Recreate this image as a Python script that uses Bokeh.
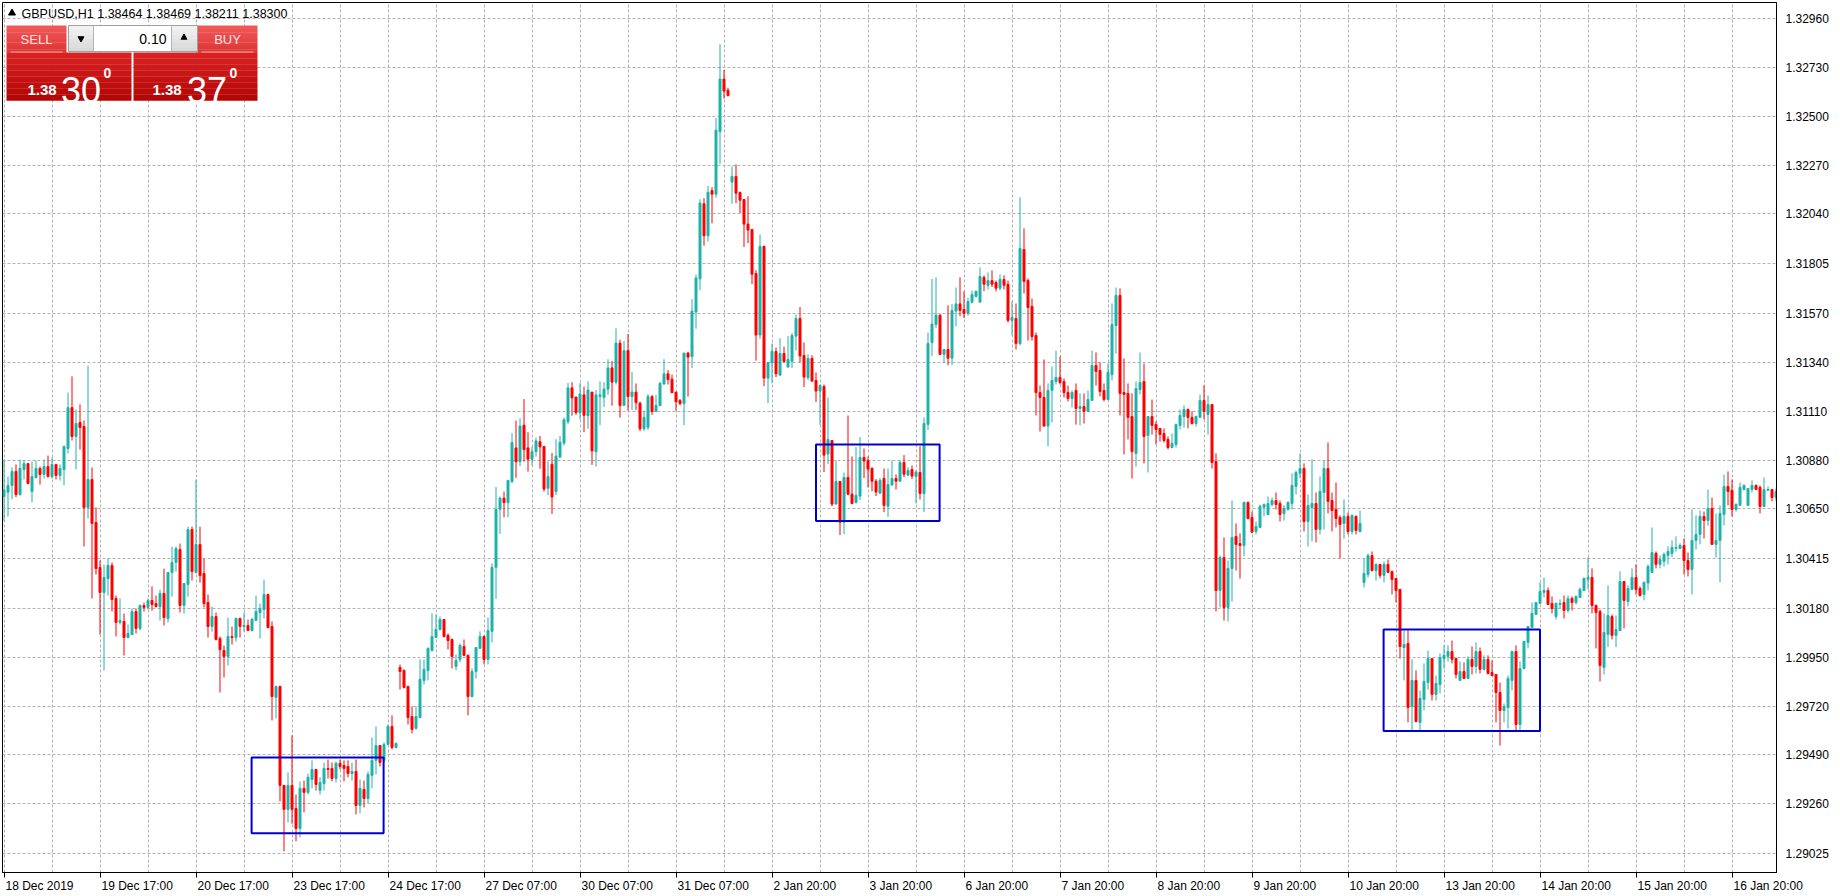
from bokeh.plotting import figure
from bokeh.models import Range1d, FixedTicker, Label, ColumnDataSource, NumeralTickFormatter
from bokeh.embed import file_html
from bokeh.resources import INLINE

# ---------------- data (GBPUSD H1 candles) ----------------
open_ = [
1.30708,1.30728,1.30760,1.30826,1.30717,1.30835,1.30863,1.30731,1.30797,1.30840,1.30812,1.30849,
1.30802,1.30859,1.30807,1.30835,1.30934,1.31127,1.30991,1.31057,1.31038,1.30656,1.30788,1.30585,
1.30373,1.30255,1.30321,1.30383,1.30227,1.30114,1.30119,1.30043,1.30057,1.30166,1.30086,1.30194,
1.30185,1.30218,1.30203,1.30189,1.30251,1.30133,1.30350,1.30397,1.30458,1.30194,1.30293,1.30552,
1.30350,1.30482,1.30345,1.30208,1.30095,1.30142,1.30038,1.29982,1.29954,1.30048,1.30043,1.30133,
1.30095,1.30100,1.30076,1.30123,1.30161,1.30175,1.30246,1.30095,1.29761,1.29812,1.29346,1.29233,
1.29346,1.29237,1.29143,1.29332,1.29313,1.29374,1.29421,1.29322,1.29355,1.29426,1.29426,1.29379,
1.29450,1.29440,1.29435,1.29402,1.29412,1.29251,1.29327,1.29284,1.29393,1.29464,1.29534,1.29464,
1.29539,1.29624,1.29525,1.29902,1.29888,1.29812,1.29671,1.29615,1.29666,1.29841,1.29888,1.29982,
1.30043,1.30081,1.30128,1.30053,1.30034,1.29907,1.29940,1.30001,1.29959,1.29765,1.29883,1.29992,
1.30048,1.29940,1.30072,1.30374,1.30648,1.30700,1.30679,1.30778,1.30937,1.30872,1.31044,1.30937,
1.30884,1.30919,1.30966,1.30944,1.30747,1.30860,1.30731,1.30894,1.30960,1.31060,1.31220,1.31177,
1.31103,1.31187,1.31089,1.31200,1.30919,1.31179,1.31175,1.31214,1.31314,1.31247,1.31431,1.31138,
1.31396,1.31179,1.31200,1.31148,1.31027,1.31034,1.31179,1.31109,1.31136,1.31238,1.31286,1.31261,
1.31200,1.31161,1.31146,1.31384,1.31367,1.31578,1.31734,1.32088,1.31937,1.32150,1.32133,1.32428,
1.32676,1.32623,1.32190,1.32217,1.32141,1.32108,1.31992,1.31967,1.31759,1.31469,1.31887,1.31266,
1.31338,1.31392,1.31280,1.31382,1.31318,1.31346,1.31464,1.31547,1.31373,1.31268,1.31359,1.31255,
1.31205,1.31227,1.30908,1.30972,1.30672,1.30779,1.30587,1.30798,1.30719,1.30680,1.30710,1.30892,
1.30878,1.30840,1.30780,1.30724,1.30793,1.30662,1.30762,1.30793,1.30780,1.30868,1.30809,1.30835,
1.30802,1.30821,1.30722,1.31048,1.31434,1.31519,1.31563,1.31378,1.31401,1.31360,1.31582,1.31616,
1.31590,1.31571,1.31624,1.31651,1.31624,1.31741,1.31703,1.31726,1.31717,1.31690,1.31731,1.31708,
1.31538,1.31547,1.31429,1.31872,1.31726,1.31604,1.31467,1.31198,1.31175,1.31040,1.31208,1.31250,
1.31269,1.31250,1.31198,1.31170,1.31208,1.31123,1.31132,1.31109,1.31161,1.31326,1.31302,1.31208,
1.31165,1.31283,1.31514,1.31656,1.31198,1.31194,1.31085,1.30911,1.31212,1.31250,1.30996,1.31085,
1.31047,1.31029,1.31005,1.30977,1.30939,1.30953,1.31043,1.31085,1.31118,1.31081,1.31052,1.31081,
1.31161,1.31095,1.31142,1.30873,1.30265,1.30420,1.30185,1.30369,1.30519,1.30486,1.30477,1.30680,
1.30609,1.30543,1.30562,1.30658,1.30623,1.30670,1.30689,1.30675,1.30628,1.30647,1.30675,1.30755,
1.30817,1.30840,1.30590,1.30656,1.30675,1.30553,1.30727,1.30840,1.30689,1.30647,1.30609,1.30581,
1.30614,1.30543,1.30614,1.30543,1.30303,1.30340,1.30430,1.30359,1.30388,1.30336,1.30388,1.30354,
1.30322,1.30270,1.29996,1.30015,1.29718,1.29841,1.29643,1.29751,1.29831,1.29944,1.29775,1.29822,
1.29944,1.29954,1.29977,1.29944,1.29841,1.29883,1.29850,1.29940,1.29907,1.29977,1.29893,1.29940,
1.29878,1.29869,1.29784,1.29699,1.29713,1.29841,1.29977,1.29633,1.29897,1.30020,1.30091,1.30152,
1.30204,1.30256,1.30265,1.30204,1.30142,1.30199,1.30208,1.30171,1.30227,1.30208,1.30232,1.30265,
1.30318,1.30326,1.30194,1.30166,1.29902,1.30058,1.30142,1.30053,1.30076,1.30307,1.30213,1.30270,
1.30326,1.30274,1.30246,1.30300,1.30350,1.30440,1.30388,1.30402,1.30430,1.30440,1.30463,1.30463,
1.30477,1.30406,1.30364,1.30501,1.30529,1.30614,1.30595,1.30652,1.30482,1.30501,1.30623,1.30755,
1.30737,1.30647,1.30666,1.30741,1.30666,1.30741,1.30760,1.30751,1.30661,1.30737,1.30741,1.30703,
]
high = [
1.30882,1.30802,1.30845,1.30859,1.30882,1.30878,1.30866,1.30873,1.30878,1.30849,1.30882,1.30901,
1.30892,1.30862,1.30859,1.30947,1.31198,1.31274,1.31118,1.31142,1.31066,1.31325,1.30845,1.30656,
1.30406,1.30387,1.30416,1.30397,1.30241,1.30227,1.30156,1.30104,1.30180,1.30180,1.30199,1.30208,
1.30227,1.30284,1.30241,1.30269,1.30368,1.30350,1.30472,1.30472,1.30486,1.30298,1.30566,1.30566,
1.30788,1.30566,1.30416,1.30246,1.30189,1.30161,1.30048,1.30005,1.30137,1.30095,1.30137,1.30137,
1.30161,1.30128,1.30137,1.30241,1.30203,1.30316,1.30250,1.30119,1.29817,1.29817,1.29346,1.29407,
1.29582,1.29303,1.29365,1.29369,1.29401,1.29464,1.29421,1.29384,1.29454,1.29468,1.29454,1.29459,
1.29468,1.29464,1.29464,1.29454,1.29468,1.29374,1.29369,1.29412,1.29572,1.29624,1.29534,1.29548,
1.29633,1.29676,1.29548,1.29916,1.29893,1.29817,1.29718,1.29718,1.29940,1.29940,1.29996,1.30157,
1.30152,1.30142,1.30128,1.30062,1.30039,1.29963,1.30015,1.30034,1.29963,1.29897,1.29996,1.30072,
1.30053,1.30138,1.30392,1.30753,1.30708,1.30731,1.30784,1.31007,1.31066,1.31077,1.31167,1.31011,
1.30942,1.30985,1.30993,1.30944,1.30874,1.30913,1.30978,1.30993,1.31081,1.31243,1.31247,1.31177,
1.31243,1.31226,1.31251,1.31200,1.31210,1.31251,1.31247,1.31355,1.31347,1.31501,1.31447,1.31441,
1.31474,1.31294,1.31241,1.31155,1.31113,1.31191,1.31187,1.31187,1.31249,1.31355,1.31304,1.31283,
1.31200,1.31167,1.31384,1.31390,1.31638,1.31753,1.32109,1.32115,1.32172,1.32166,1.32492,1.32840,
1.32719,1.32635,1.32264,1.32273,1.32146,1.32108,1.32124,1.31967,1.31775,1.31943,1.31891,1.31340,
1.31429,1.31410,1.31454,1.31415,1.31464,1.31478,1.31566,1.31601,1.31434,1.31378,1.31374,1.31293,
1.31236,1.31236,1.31175,1.30972,1.30878,1.30779,1.30821,1.31090,1.30897,1.30941,1.30988,1.30934,
1.30897,1.30846,1.30790,1.30795,1.30840,1.30840,1.30878,1.30812,1.30878,1.30903,1.30845,1.30854,
1.30831,1.30945,1.31081,1.31481,1.31734,1.31741,1.31566,1.31401,1.31609,1.31616,1.31693,1.31741,
1.31675,1.31645,1.31679,1.31679,1.31788,1.31750,1.31764,1.31774,1.31726,1.31755,1.31750,1.31726,
1.31627,1.31618,1.32118,1.31972,1.31736,1.31641,1.31481,1.31231,1.31354,1.31241,1.31321,1.31396,
1.31368,1.31264,1.31231,1.31208,1.31241,1.31194,1.31194,1.31208,1.31396,1.31387,1.31340,1.31241,
1.31335,1.31618,1.31693,1.31689,1.31359,1.31241,1.31194,1.31250,1.31387,1.31335,1.31085,1.31165,
1.31062,1.31029,1.31029,1.30991,1.31005,1.31052,1.31118,1.31137,1.31123,1.31109,1.31090,1.31189,
1.31231,1.31184,1.31142,1.30911,1.30430,1.30515,1.30406,1.30689,1.30581,1.30534,1.30684,1.30684,
1.30637,1.30590,1.30670,1.30675,1.30708,1.30703,1.30727,1.30689,1.30666,1.30685,1.30817,1.30831,
1.30911,1.30864,1.30718,1.30883,1.30727,1.30802,1.30878,1.30963,1.30727,1.30774,1.30619,1.30694,
1.30633,1.30623,1.30619,1.30642,1.30416,1.30439,1.30449,1.30392,1.30388,1.30402,1.30411,1.30359,
1.30322,1.30270,1.30076,1.30076,1.29940,1.29888,1.29793,1.29921,1.29982,1.29944,1.29864,1.29968,
1.30006,1.30006,1.30029,1.29949,1.29930,1.29926,1.29954,1.30001,1.30020,1.29996,1.29959,1.29959,
1.29935,1.29869,1.29831,1.29732,1.29864,1.29982,1.30006,1.29930,1.30025,1.30095,1.30208,1.30208,
1.30303,1.30326,1.30279,1.30237,1.30208,1.30223,1.30241,1.30241,1.30237,1.30241,1.30279,1.30326,
1.30421,1.30369,1.30199,1.30175,1.30157,1.30289,1.30152,1.30147,1.30355,1.30307,1.30289,1.30369,
1.30388,1.30284,1.30307,1.30388,1.30562,1.30449,1.30430,1.30444,1.30473,1.30501,1.30520,1.30487,
1.30510,1.30444,1.30647,1.30619,1.30642,1.30637,1.30741,1.30703,1.30628,1.30666,1.30812,1.30826,
1.30788,1.30675,1.30774,1.30765,1.30746,1.30784,1.30765,1.30760,1.30798,1.30755,1.30741,1.30746,
]
low = [
1.30592,1.30614,1.30695,1.30705,1.30712,1.30788,1.30766,1.30680,1.30793,1.30764,1.30793,1.30797,
1.30793,1.30788,1.30783,1.30760,1.30911,1.30972,1.30835,1.30929,1.30472,1.30604,1.30227,1.30340,
1.30057,1.29888,1.30241,1.30166,1.30048,1.30104,1.29958,1.30040,1.30055,1.30062,1.30076,1.30166,
1.30175,1.30170,1.30185,1.30123,1.30100,1.30114,1.30236,1.30354,1.30161,1.30156,1.30236,1.30312,
1.30345,1.30302,1.30185,1.30043,1.30071,1.30029,1.29784,1.29855,1.29911,1.30010,1.30024,1.30043,
1.30071,1.30076,1.30071,1.30123,1.30038,1.30133,1.30086,1.29652,1.29662,1.29270,1.29035,1.29171,
1.29165,1.29082,1.29101,1.29219,1.29303,1.29332,1.29322,1.29303,1.29322,1.29379,1.29365,1.29360,
1.29421,1.29365,1.29384,1.29369,1.29209,1.29214,1.29242,1.29261,1.29332,1.29398,1.29435,1.29454,
1.29539,1.29515,1.29520,1.29798,1.29803,1.29633,1.29591,1.29610,1.29662,1.29822,1.29841,1.29977,
1.30043,1.30076,1.30043,1.29987,1.29897,1.29888,1.29926,1.29954,1.29676,1.29761,1.29850,1.29992,
1.29916,1.29916,1.30020,1.30225,1.30532,1.30610,1.30610,1.30771,1.30796,1.30851,1.30872,1.30825,
1.30855,1.30896,1.30839,1.30731,1.30714,1.30626,1.30714,1.30890,1.30948,1.31050,1.31089,1.31093,
1.31070,1.31011,1.31027,1.30857,1.30849,1.31044,1.31130,1.31187,1.31136,1.31236,1.31079,1.31136,
1.31113,1.31116,1.31116,1.31017,1.31017,1.31021,1.31093,1.31109,1.31136,1.31236,1.31236,1.31197,
1.31113,1.31138,1.31044,1.31179,1.31314,1.31499,1.31681,1.31890,1.31910,1.31996,1.32117,1.32275,
1.32584,1.32594,1.32088,1.32091,1.32044,1.31884,1.31902,1.31709,1.31349,1.31451,1.31228,1.31148,
1.31242,1.31271,1.31280,1.31340,1.31318,1.31313,1.31396,1.31340,1.31224,1.31257,1.31250,1.31153,
1.31046,1.30823,1.30860,1.30662,1.30672,1.30526,1.30530,1.30714,1.30672,1.30675,1.30691,1.30795,
1.30751,1.30733,1.30710,1.30719,1.30634,1.30611,1.30760,1.30741,1.30780,1.30799,1.30804,1.30790,
1.30675,1.30694,1.30634,1.31021,1.31370,1.31502,1.31374,1.31337,1.31327,1.31327,1.31511,1.31558,
1.31549,1.31560,1.31618,1.31646,1.31624,1.31676,1.31684,1.31695,1.31675,1.31679,1.31684,1.31528,
1.31467,1.31401,1.31420,1.31665,1.31443,1.31443,1.31090,1.31014,1.31038,1.30944,1.31057,1.31236,
1.31236,1.31175,1.31156,1.31128,1.31047,1.31043,1.31052,1.31109,1.31161,1.31231,1.31180,1.31156,
1.31165,1.31255,1.31382,1.31090,1.30906,1.30977,1.30793,1.30849,1.31189,1.30864,1.30821,1.31000,
1.30953,1.30967,1.30963,1.30930,1.30935,1.30939,1.31024,1.31033,1.31029,1.31047,1.31038,1.31081,
1.31071,1.31000,1.30840,1.30166,1.30185,1.30123,1.30119,1.30213,1.30359,1.30321,1.30425,1.30600,
1.30535,1.30529,1.30562,1.30614,1.30623,1.30661,1.30647,1.30590,1.30595,1.30642,1.30647,1.30718,
1.30793,1.30543,1.30472,1.30496,1.30491,1.30529,1.30553,1.30628,1.30543,1.30562,1.30416,1.30510,
1.30529,1.30529,1.30529,1.30538,1.30279,1.30326,1.30354,1.30312,1.30322,1.30303,1.30350,1.30246,
1.30208,1.29944,1.29841,1.29643,1.29605,1.29643,1.29605,1.29699,1.29798,1.29746,1.29746,1.29779,
1.29897,1.29930,1.29921,1.29850,1.29841,1.29850,1.29850,1.29869,1.29874,1.29874,1.29888,1.29869,
1.29860,1.29643,1.29534,1.29643,1.29614,1.29794,1.29605,1.29600,1.29893,1.29992,1.30091,1.30152,
1.30204,1.30232,1.30199,1.30157,1.30128,1.30180,1.30133,1.30161,1.30171,1.30199,1.30232,1.30265,
1.30270,1.30157,1.29992,1.29836,1.29869,1.29998,1.30034,1.29998,1.30076,1.30086,1.30190,1.30270,
1.30246,1.30237,1.30218,1.30265,1.30350,1.30369,1.30369,1.30378,1.30388,1.30421,1.30449,1.30460,
1.30340,1.30331,1.30246,1.30458,1.30482,1.30510,1.30571,1.30482,1.30421,1.30303,1.30571,1.30666,
1.30614,1.30637,1.30666,1.30737,1.30666,1.30727,1.30741,1.30628,1.30661,1.30737,1.30685,1.30685,
]
close = [
1.30739,1.30760,1.30826,1.30717,1.30840,1.30863,1.30769,1.30802,1.30840,1.30812,1.30849,1.30802,
1.30859,1.30807,1.30840,1.30944,1.31127,1.30991,1.31052,1.31033,1.30656,1.30788,1.30581,1.30368,
1.30255,1.30326,1.30383,1.30222,1.30114,1.30123,1.30043,1.30062,1.30166,1.30086,1.30194,1.30185,
1.30218,1.30199,1.30189,1.30251,1.30137,1.30350,1.30397,1.30463,1.30194,1.30298,1.30552,1.30354,
1.30482,1.30335,1.30203,1.30095,1.30142,1.30034,1.29986,1.29954,1.30048,1.30043,1.30133,1.30095,
1.30100,1.30076,1.30128,1.30166,1.30180,1.30246,1.30090,1.29765,1.29812,1.29346,1.29233,1.29346,
1.29233,1.29143,1.29332,1.29313,1.29384,1.29421,1.29350,1.29360,1.29426,1.29421,1.29379,1.29450,
1.29435,1.29426,1.29402,1.29412,1.29251,1.29332,1.29284,1.29398,1.29464,1.29534,1.29454,1.29539,
1.29624,1.29525,1.29544,1.29883,1.29808,1.29666,1.29610,1.29671,1.29846,1.29893,1.29992,1.30048,
1.30081,1.30128,1.30048,1.30029,1.29954,1.29935,1.30006,1.29959,1.29765,1.29883,1.29996,1.30048,
1.29940,1.30076,1.30374,1.30648,1.30700,1.30679,1.30784,1.30962,1.30872,1.31040,1.30929,1.30884,
1.30919,1.30970,1.30942,1.30743,1.30802,1.30706,1.30898,1.30964,1.31070,1.31220,1.31173,1.31103,
1.31191,1.31091,1.31210,1.30923,1.31187,1.31187,1.31214,1.31314,1.31247,1.31431,1.31136,1.31396,
1.31179,1.31200,1.31150,1.31027,1.31081,1.31179,1.31109,1.31138,1.31241,1.31286,1.31259,1.31197,
1.31155,1.31146,1.31384,1.31365,1.31582,1.31738,1.32091,1.31937,1.32142,1.32133,1.32435,1.32676,
1.32619,1.32598,1.32217,1.32138,1.32105,1.31992,1.31964,1.31756,1.31469,1.31887,1.31266,1.31340,
1.31392,1.31286,1.31382,1.31344,1.31354,1.31467,1.31547,1.31370,1.31271,1.31359,1.31252,1.31205,
1.31231,1.30903,1.30977,1.30672,1.30779,1.30587,1.30798,1.30719,1.30675,1.30713,1.30892,1.30875,
1.30837,1.30780,1.30729,1.30784,1.30666,1.30765,1.30793,1.30780,1.30868,1.30813,1.30831,1.30804,
1.30823,1.30722,1.31052,1.31429,1.31521,1.31563,1.31378,1.31401,1.31360,1.31585,1.31616,1.31585,
1.31571,1.31627,1.31660,1.31675,1.31745,1.31709,1.31726,1.31709,1.31690,1.31731,1.31704,1.31538,
1.31552,1.31429,1.31877,1.31722,1.31599,1.31462,1.31198,1.31175,1.31040,1.31208,1.31255,1.31269,
1.31245,1.31198,1.31170,1.31198,1.31123,1.31132,1.31109,1.31165,1.31326,1.31297,1.31203,1.31165,
1.31293,1.31519,1.31656,1.31194,1.31189,1.31081,1.30920,1.31217,1.31245,1.30991,1.31085,1.31043,
1.31024,1.31000,1.30972,1.30939,1.30958,1.31047,1.31090,1.31118,1.31081,1.31052,1.31085,1.31161,
1.31109,1.31142,1.30868,1.30265,1.30420,1.30185,1.30369,1.30515,1.30482,1.30477,1.30680,1.30604,
1.30540,1.30567,1.30661,1.30670,1.30675,1.30689,1.30670,1.30623,1.30652,1.30680,1.30760,1.30821,
1.30840,1.30590,1.30666,1.30675,1.30553,1.30732,1.30840,1.30685,1.30642,1.30604,1.30576,1.30614,
1.30543,1.30619,1.30548,1.30581,1.30345,1.30430,1.30359,1.30388,1.30336,1.30388,1.30350,1.30317,
1.30265,1.30001,1.30010,1.29713,1.29841,1.29647,1.29756,1.29836,1.29944,1.29775,1.29827,1.29949,
1.29959,1.29977,1.29940,1.29869,1.29883,1.29850,1.29940,1.29907,1.29977,1.29893,1.29940,1.29874,
1.29864,1.29784,1.29699,1.29718,1.29850,1.29977,1.29633,1.29897,1.30025,1.30095,1.30157,1.30208,
1.30260,1.30265,1.30199,1.30180,1.30204,1.30204,1.30171,1.30227,1.30208,1.30237,1.30270,1.30322,
1.30326,1.30194,1.30161,1.29911,1.30067,1.30147,1.30053,1.30081,1.30307,1.30218,1.30274,1.30326,
1.30270,1.30241,1.30303,1.30378,1.30444,1.30388,1.30411,1.30435,1.30449,1.30468,1.30468,1.30477,
1.30406,1.30364,1.30501,1.30529,1.30614,1.30595,1.30652,1.30482,1.30501,1.30628,1.30755,1.30732,
1.30647,1.30671,1.30751,1.30760,1.30746,1.30760,1.30741,1.30661,1.30741,1.30741,1.30703,1.30732,
]

# time-axis labels: bar index -> text
x_label_bars = [0, 24, 48, 72, 96, 120, 144, 168, 192, 216, 240, 264, 288, 312, 336, 360, 384, 408, 432]
x_label_text = ["18 Dec 2019", "19 Dec 17:00", "20 Dec 17:00", "23 Dec 17:00", "24 Dec 17:00",
                "27 Dec 07:00", "30 Dec 07:00", "31 Dec 07:00", "2 Jan 20:00", "3 Jan 20:00",
                "6 Jan 20:00", "7 Jan 20:00", "8 Jan 20:00", "9 Jan 20:00", "10 Jan 20:00",
                "13 Jan 20:00", "14 Jan 20:00", "15 Jan 20:00", "16 Jan 20:00"]
grid_step_bars = 12

# price-axis ticks
y_ticks = [1.32960, 1.32730, 1.32500, 1.32270, 1.32040, 1.31805, 1.31570, 1.31340, 1.31110,
           1.30880, 1.30650, 1.30415, 1.30180, 1.29950, 1.29720, 1.29490, 1.29260, 1.29025]

# highlighted consolidation zones (bar index / price)
box_left = [61.9, 203.0, 344.9]
box_right = [94.9, 233.9, 384.0]
box_top = [1.29478, 1.30953, 1.30081]
box_bottom = [1.29120, 1.30592, 1.29602]

# header / trade panel texts
header_symbol = "GBPUSD,H1"
header_quotes = "1.38464 1.38469 1.38211 1.38300"
lot_size = "0.10"
sell_big, sell_pips, sell_frac = "1.38", "30", "0"
buy_big, buy_pips, buy_frac = "1.38", "37", "0"

# ---------------- figure ----------------
FONT = "Liberation Sans"
BULL, BEAR = "#20b2aa", "#ff0000"
FL, FT = 2, 2             # page position of the frame's top-left corner
FW, FH = 1774, 870
PXB = 4.0                 # pixels per bar
X0 = -0.375
X1 = X0 + FW / PXB
Y1 = 1.330368
PYU = 21212.0             # pixels per price unit
Y0 = Y1 - FH / PYU


def dx(px):
    return X0 + (px - FL) / PXB


def dy(py):
    return Y1 - (py - FT) / PYU


p = figure(frame_width=FW, frame_height=FH,
           x_range=Range1d(X0, X1), y_range=Range1d(Y0, Y1),
           y_axis_location="right", output_backend="svg", toolbar_location=None,
           min_border_left=FL, min_border_top=FT, min_border_right=63, min_border_bottom=23,
           background_fill_color="white", border_fill_color="white",
           outline_line_color="black", outline_line_width=1)

# grid
p.xgrid.ticker = FixedTicker(ticks=list(range(0, len(close), grid_step_bars)))
for g in (p.xgrid, p.ygrid):
    g.grid_line_color = "#b2b2b2"
    g.grid_line_dash = "3 2"
    g.grid_line_width = 1

# y axis (right)
p.yaxis.ticker = FixedTicker(ticks=y_ticks)
p.yaxis.formatter = NumeralTickFormatter(format="0.00000")
p.yaxis.major_tick_out = 0
p.yaxis.major_tick_in = 0
p.yaxis.minor_tick_out = 0
p.yaxis.minor_tick_in = 0
p.yaxis.major_label_standoff = 9
p.yaxis.major_label_text_font = FONT
p.yaxis.major_label_text_font_size = "12px"
p.yaxis.major_label_text_color = "black"
p.yaxis.axis_line_color = "black"

# x axis (bottom): tick marks at the label bars (minor ticks), labels left-aligned
# next to them (major ticks shifted by half the text width, no marks).
CW = {" ": 278, ":": 278, "D": 722, "e": 556, "c": 500, "J": 500, "a": 556, "n": 556}


def text_w(s, size=12.0):
    return sum(CW.get(ch, 556) for ch in s) * size / 1000.0


label_pos = [round(b + (1.5 + text_w(t) / 2.0) / PXB, 3) for b, t in zip(x_label_bars, x_label_text)]
p.xaxis.ticker = FixedTicker(ticks=label_pos, minor_ticks=x_label_bars)
p.xaxis.major_label_overrides = {pos: t for pos, t in zip(label_pos, x_label_text)}
p.xaxis.major_tick_out = 0
p.xaxis.major_tick_in = 0
p.xaxis.minor_tick_out = 5
p.xaxis.minor_tick_in = 0
p.xaxis.minor_tick_line_color = "black"
p.xaxis.major_label_standoff = 1
p.xaxis.major_label_text_font = FONT
p.xaxis.major_label_text_font_size = "12px"
p.xaxis.major_label_text_color = "black"
p.xaxis.axis_line_color = "black"

# candles
n = min(len(open_), len(high), len(low), len(close))
xs = list(range(n))
colors = [BULL if close[i] >= open_[i] else BEAR for i in range(n)]
src = ColumnDataSource(dict(
    x=xs, o=open_[:n], h=high[:n], l=low[:n], c=close[:n],
    top=[max(open_[i], close[i]) for i in range(n)],
    bot=[min(open_[i], close[i]) for i in range(n)],
    color=colors))
p.segment(x0="x", y0="l", x1="x", y1="h", source=src, line_color="color", line_width=1)
p.vbar(x="x", width=0.5, top="top", bottom="bot", source=src,
       fill_color="color", line_color="color", line_width=1)

# highlight boxes
p.quad(left=box_left, right=box_right, top=box_top, bottom=box_bottom,
       fill_alpha=0, line_color="#0000cd", line_width=2)

# ---------------- header ----------------
p.scatter(x=[dx(11.5)], y=[dy(12.5)], marker="triangle", size=7,
          fill_color="black", line_color="black")
p.add_layout(Label(x=dx(21), y=dy(13), text=header_symbol + "  " + header_quotes,
                   text_baseline="middle", text_align="left",
                   text_font=FONT, text_font_size="12.5px", text_color="black"))


# ---------------- trade panel ----------------
def hexcol(c):
    return tuple(int(c[k:k + 2], 16) for k in (1, 3, 5))


panel = {"l": [], "r": [], "t": [], "b": [], "c": []}


def add_block(x0, x1, y0, y1, ctop, cbot, nb=8):
    a, b = hexcol(ctop), hexcol(cbot)
    h = (y1 - y0) / nb
    for k in range(nb):
        f = (k + 0.5) / nb
        col = "#%02x%02x%02x" % tuple(int(round(a[j] + (b[j] - a[j]) * f)) for j in range(3))
        panel["l"].append(dx(x0)); panel["r"].append(dx(x1))
        panel["t"].append(dy(y0 + k * h)); panel["b"].append(dy(y0 + (k + 1) * h + 0.3))
        panel["c"].append(col)


# SELL / BUY header buttons
add_block(6, 66, 25, 52, "#f25a5a", "#dc3434")
add_block(197, 257, 25, 52, "#f25a5a", "#dc3434")
# price blocks
add_block(6, 131, 52, 100, "#da2424", "#b20404")
add_block(133, 257, 52, 100, "#da2424", "#b20404")
# lot control buttons
add_block(68, 93, 25, 51, "#f4f4f4", "#d6d6d6", 6)
add_block(171, 197, 25, 51, "#f4f4f4", "#d6d6d6", 6)

p.quad(left=panel["l"], right=panel["r"], top=panel["t"], bottom=panel["b"],
       fill_color=panel["c"], line_color=None)
# lot field and border
p.quad(left=[dx(93)], right=[dx(171)], top=[dy(25)], bottom=[dy(51)],
       fill_color="white", line_color=None)
p.quad(left=[dx(68)], right=[dx(197)], top=[dy(25)], bottom=[dy(51)],
       fill_alpha=0, line_color="#a0a0a0", line_width=1)
p.segment(x0=[dx(93), dx(171)], y0=[dy(25), dy(25)], x1=[dx(93), dx(171)], y1=[dy(51), dy(51)],
          line_color="#b4b4b4", line_width=1)
# separators under SELL / BUY
p.segment(x0=[dx(10), dx(201)], y0=[dy(51.5), dy(51.5)], x1=[dx(62), dx(253)], y1=[dy(51.5), dy(51.5)],
          line_color="#f6a6a6", line_width=1)
# arrows in the lot control
p.scatter(x=[dx(80.5)], y=[dy(38)], marker="inverted_triangle", size=6,
          fill_color="black", line_color="black")
p.scatter(x=[dx(183.5)], y=[dy(37)], marker="triangle", size=6,
          fill_color="black", line_color="black")


def panel_text(txt, x, y, size, color="white", align="left", baseline="alphabetic", style="normal"):
    p.add_layout(Label(x=dx(x), y=dy(y), text=txt, text_align=align, text_baseline=baseline,
                       text_font=FONT, text_font_size=size, text_color=color,
                       text_font_style=style))


panel_text("SELL", 36, 39, "13px", "#ffe2e2", "center", "middle")
panel_text("BUY", 227, 39, "13px", "#ffe2e2", "center", "middle")
panel_text(lot_size, 166, 38.5, "14px", "black", "right", "middle")
panel_text(sell_big, 27, 89.5, "15px", style="bold")
panel_text(sell_pips, 60.5, 89.5, "36px")
panel_text(sell_frac, 103, 72, "14px", style="bold")
panel_text(buy_big, 152, 89.5, "15px", style="bold")
panel_text(buy_pips, 186.5, 89.5, "36px")
panel_text(buy_frac, 229, 72, "14px", style="bold")

open("out.html", "w").write(file_html(p, INLINE))
